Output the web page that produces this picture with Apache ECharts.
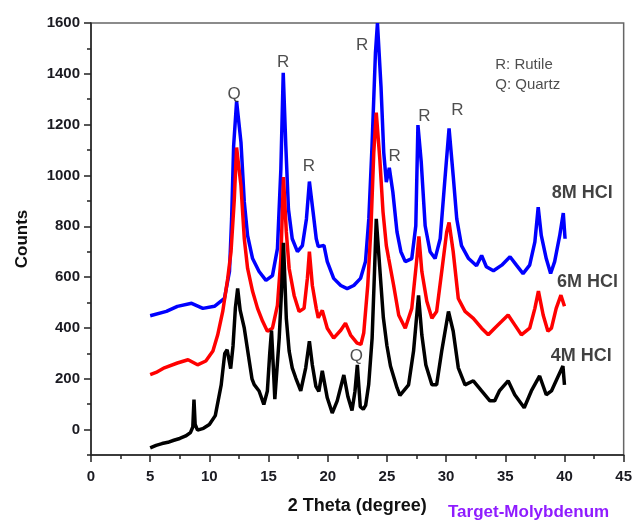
<!DOCTYPE html>
<html>
<head>
<meta charset="utf-8">
<script src="https://cdn.jsdelivr.net/npm/echarts@6/dist/echarts.min.js"></script>
<style>
  html, body { margin: 0; padding: 0; background: #ffffff; }
  #chart { width: 635px; height: 520px; }
</style>
</head>
<body>
<div id="chart"></div>
<script>
// XRD patterns (2θ in degrees, intensity in counts) after leaching with HCl.
const theta4M = [5.0, 5.5, 6.0, 6.5, 7.0, 7.5, 8.0, 8.4, 8.6, 8.7, 8.8, 9.0, 9.5, 10.0, 10.5, 11.0, 11.3, 11.5, 11.8, 12.0, 12.2, 12.39, 12.6, 12.95, 13.37, 13.6, 13.79, 14.2, 14.6, 14.9, 15.1, 15.25, 15.4, 15.53, 15.9, 16.1, 16.26, 16.5, 16.74, 17.0, 17.3, 17.72, 18.14, 18.45, 18.7, 19.0, 19.25, 19.54, 19.96, 20.38, 20.8, 21.36, 21.7, 22.05, 22.3, 22.5, 22.75, 23.0, 23.2, 23.46, 23.75, 23.95, 24.1, 24.45, 24.7, 25.0, 25.3, 25.85, 26.1, 26.83, 27.25, 27.67, 27.95, 28.29, 28.8, 29.2, 29.63, 30.2, 30.6, 31.03, 31.6, 32.3, 33.0, 33.7, 34.1, 34.5, 35.24, 35.8, 36.6, 37.2, 37.9, 38.46, 38.9, 39.4, 39.87, 40.0];
const counts4M = [-72, -62, -55, -50, -42, -35, -25, -12, 10, 118, 20, -2, 5, 20, 55, 176, 300, 314, 240, 330, 480, 555, 470, 399, 270, 200, 177, 152, 99, 152, 300, 390, 250, 120, 360, 550, 735, 438, 309, 243, 203, 152, 243, 348, 254, 170, 150, 231, 125, 65, 113, 215, 130, 75, 150, 255, 90, 80, 95, 177, 360, 620, 829, 600, 440, 330, 250, 165, 135, 176, 309, 528, 372, 254, 176, 176, 309, 465, 387, 243, 176, 192, 152, 113, 113, 152, 192, 137, 86, 152, 211, 137, 152, 203, 250, 176];

const theta6M = [5.0, 5.5, 6.2, 7.3, 8.2, 9.0, 9.7, 10.3, 10.7, 11.13, 11.55, 11.83, 12.1, 12.3, 12.67, 12.95, 13.23, 13.65, 14.07, 14.5, 14.9, 15.33, 15.75, 16.04, 16.26, 16.5, 16.74, 17.16, 17.58, 18.0, 18.28, 18.45, 18.7, 19.03, 19.2, 19.54, 19.96, 20.5, 21.1, 21.5, 21.93, 22.48, 22.8, 23.04, 23.38, 23.66, 23.89, 24.1, 24.4, 24.67, 24.95, 25.15, 25.57, 26.0, 26.55, 27.1, 27.53, 27.7, 27.95, 28.37, 28.8, 29.2, 29.63, 30.05, 30.25, 30.6, 31.03, 31.6, 32.3, 33.0, 33.56, 34.1, 34.7, 35.24, 35.8, 36.36, 37.06, 37.5, 37.8, 38.2, 38.6, 38.9, 39.3, 39.7, 40.0];
const counts6M = [216, 225, 243, 262, 275, 255, 270, 309, 372, 465, 595, 700, 900, 1110, 960, 751, 634, 544, 477, 426, 387, 399, 489, 673, 994, 778, 634, 528, 465, 477, 595, 700, 567, 477, 440, 469, 399, 360, 391, 419, 372, 340, 335, 380, 567, 802, 1091, 1247, 1064, 857, 724, 673, 567, 450, 399, 477, 673, 760, 622, 505, 438, 465, 622, 778, 815, 700, 516, 465, 438, 399, 373, 399, 426, 451, 412, 373, 399, 477, 545, 451, 387, 399, 477, 529, 485];

const theta8M = [5.0, 6.37, 7.3, 8.5, 9.45, 10.43, 11.27, 11.7, 11.88, 12.05, 12.3, 12.67, 12.95, 13.23, 13.65, 14.2, 14.78, 15.33, 15.75, 16.04, 16.24, 16.46, 16.68, 17.0, 17.44, 17.86, 18.2, 18.45, 18.76, 19.03, 19.2, 19.68, 19.96, 20.5, 21.1, 21.64, 22.2, 22.77, 23.19, 23.47, 23.74, 24.03, 24.2, 24.5, 24.73, 24.95, 25.2, 25.5, 25.85, 26.18, 26.55, 27.1, 27.44, 27.62, 27.9, 28.23, 28.65, 29.07, 29.5, 29.9, 30.25, 30.6, 30.9, 31.3, 31.9, 32.57, 33.0, 33.4, 34.0, 34.7, 35.4, 35.94, 36.5, 37.06, 37.5, 37.78, 38.04, 38.46, 38.83, 39.17, 39.6, 39.9, 40.05];
const counts8M = [448, 465, 485, 497, 477, 485, 516, 622, 829, 1116, 1292, 1130, 896, 763, 673, 622, 587, 606, 712, 1025, 1404, 1115, 868, 751, 700, 724, 829, 976, 857, 751, 720, 725, 661, 595, 567, 555, 567, 595, 661, 829, 1115, 1482, 1600, 1350, 1091, 974, 1030, 935, 778, 700, 661, 673, 802, 1198, 1052, 802, 700, 673, 751, 986, 1185, 998, 829, 724, 673, 645, 685, 641, 625, 647, 680, 647, 614, 647, 739, 875, 764, 673, 614, 661, 764, 852, 751];

const sampleNames = ['4M HCl', '6M HCl', '8M HCl'];
const yLabelValues = [0, 200, 400, 600, 800, 1000, 1200, 1400, 1600];
const yMinorValues = [-100, 100, 300, 500, 700, 900, 1100, 1300, 1500];

// Phase letters placed over reflections: [letter, 2θ, counts]
const phaseMarks = [
  ['Q', 12.1, 1318], ['R', 16.23, 1447], ['R', 18.4, 1036], ['R', 22.9, 1513],
  ['R', 25.65, 1075], ['R', 28.17, 1232], ['R', 30.95, 1255], ['Q', 22.41, 289]
];
// Key and sample names written inside the plot: [text, 2θ, counts]
const keyText = [['R: Rutile', 34.15, 1435], ['Q: Quartz', 34.15, 1357]];
const sampleTags = [['8M HCl', 38.93, 931], ['6M HCl', 39.36, 579], ['4M HCl', 38.85, 289]];

const FONT = 'Arial, "Liberation Sans", sans-serif';
const pairs = (xs, ys) => xs.map((x, i) => [x, ys[i]]);

const chart = echarts.init(document.getElementById('chart'), null, { renderer: 'canvas' });

function textSeries(items, label) {
  return {
    type: 'scatter',
    silent: true,
    symbol: 'circle',
    symbolSize: 1,
    itemStyle: { color: 'transparent' },
    data: items.map(d => ({ name: d[0], value: [d[1], d[2]] })),
    label: Object.assign({ show: true, position: 'inside', formatter: p => p.name, fontFamily: FONT }, label),
    z: 10
  };
}

const axisStroke = { color: '#222', width: 1.5 };

chart.setOption({
  animation: false,
  backgroundColor: '#ffffff',
  grid: { left: 91, right: 8, top: 23, bottom: 62, show: true, borderColor: '#666', borderWidth: 1.5, backgroundColor: 'transparent' },
  xAxis: {
    type: 'value', min: 0, max: 45, interval: 5,
    axisLine: { show: true, onZero: false, lineStyle: axisStroke },
    axisTick: { show: true, length: 7, lineStyle: axisStroke },
    minorTick: { show: true, splitNumber: 2, length: 4, lineStyle: axisStroke },
    splitLine: { show: false },
    axisLabel: { fontFamily: FONT, fontSize: 15, fontWeight: 'bold', color: '#1b1b22', margin: 14 },
    name: '2 Theta (degree)', nameLocation: 'middle', nameGap: 42,
    nameTextStyle: { fontFamily: FONT, fontSize: 18, fontWeight: 'bold', color: '#111' }
  },
  yAxis: [{
    type: 'value', min: -100, max: 1600, interval: 100,
    axisLine: { show: true, onZero: false, lineStyle: axisStroke },
    axisTick: { show: true, length: 7, lineStyle: axisStroke, customValues: yLabelValues },
    axisLabel: { fontFamily: FONT, fontSize: 15, fontWeight: 'bold', color: '#1b1b22', margin: 11, customValues: yLabelValues, formatter: v => String(v) },
    splitLine: { show: false },
    name: 'Counts', nameLocation: 'middle', nameGap: 60,
    nameTextStyle: { fontFamily: FONT, fontSize: 17, fontWeight: 'bold', color: '#111' }
  }, {
    type: 'value', min: -100, max: 1600, interval: 100, position: 'left',
    axisLine: { show: false },
    axisTick: { show: true, length: 4, lineStyle: axisStroke, customValues: yMinorValues },
    axisLabel: { show: false },
    splitLine: { show: false }
  }],
  graphic: [{
    type: 'text', left: 448, top: 504,
    style: { text: 'Target-Molybdenum', fontFamily: FONT, fontSize: 17, fontWeight: 'bold', fill: '#8f1cff' }
  }],
  series: [
    { name: sampleNames[0], type: 'line', data: pairs(theta4M, counts4M), showSymbol: false, lineStyle: { color: '#000000', width: 3.5 }, z: 3 },
    { name: sampleNames[1], type: 'line', data: pairs(theta6M, counts6M), showSymbol: false, lineStyle: { color: '#ff0000', width: 3.5 }, z: 2 },
    { name: sampleNames[2], type: 'line', data: pairs(theta8M, counts8M), showSymbol: false, lineStyle: { color: '#0000ff', width: 3.5 }, z: 1 },
    textSeries(phaseMarks, { fontSize: 17, color: '#222' }),
    textSeries(keyText, { fontSize: 15, color: '#222', align: 'left' }),
    textSeries(sampleTags, { fontSize: 18, fontWeight: 'bold', color: '#111', align: 'left' })
  ]
});
</script>
</body>
</html>
